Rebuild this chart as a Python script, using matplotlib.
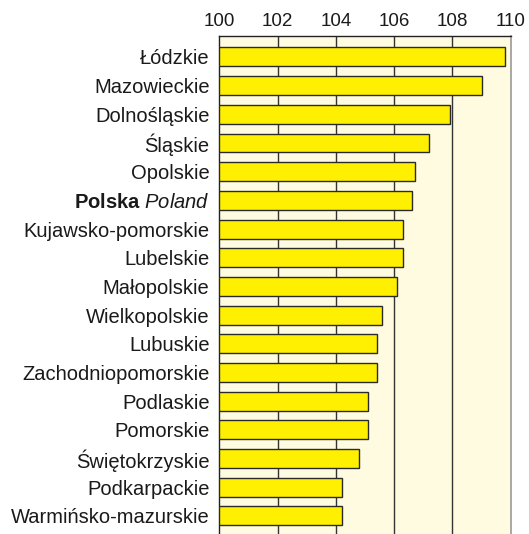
import matplotlib
matplotlib.use("Agg")
import matplotlib.pyplot as plt

regions = ['Łódzkie', 'Mazowieckie', 'Dolnośląskie', 'Śląskie', 'Opolskie',
           'Polska Poland', 'Kujawsko-pomorskie', 'Lubelskie', 'Małopolskie',
           'Wielkopolskie', 'Lubuskie', 'Zachodniopomorskie', 'Podlaskie',
           'Pomorskie', 'Świętokrzyskie', 'Podkarpackie', 'Warmińsko-mazurskie']
values = [109.8, 109.0, 107.9, 107.2, 106.7, 106.6, 106.3, 106.3, 106.1,
          105.6, 105.4, 105.4, 105.1, 105.1, 104.8, 104.2, 104.2]
xticks = [100, 102, 104, 106, 108, 110]

plt.rcParams['font.family'] = ['Liberation Sans', 'DejaVu Sans']
plt.rcParams['mathtext.fontset'] = 'custom'
plt.rcParams['mathtext.rm'] = 'Liberation Sans'
plt.rcParams['mathtext.bf'] = 'Liberation Sans:bold'
plt.rcParams['mathtext.it'] = 'Liberation Sans:italic'

fig = plt.figure(figsize=(5.29, 5.34), dpi=100)
ax = fig.add_axes([0.4146, 0.0, 0.5508, 0.9326])
ax.set_facecolor('#FFFBE1')

pos = list(range(len(regions)))
ax.barh(pos, [v - 100 for v in values], left=100, height=0.66,
        color='#FFEF00', edgecolor='#2a2a2a', linewidth=1.0, zorder=3)

ax.set_xlim(100, 110)
ax.set_ylim(16.63, -0.73)
ax.set_xticks(xticks)
ax.xaxis.tick_top()
ax.tick_params(axis='x', length=0, pad=4, labelsize=13.5, labelcolor='#1a1a1a')
ax.tick_params(axis='y', length=0, pad=7, labelsize=14.5, labelcolor='#1a1a1a')
for x in xticks[1:-1]:
    ax.axvline(x, color='#333333', linewidth=1.0, zorder=1)

labels = [r'$\bf{Polska}\ \it{Poland}$' if r == 'Polska Poland' else r for r in regions]
ax.set_yticks(pos)
ax.set_yticklabels(labels)

for s in ['left', 'top']:
    ax.spines[s].set_color('#222222')
    ax.spines[s].set_linewidth(1.0)
ax.spines['right'].set_color('#999999')
ax.spines['right'].set_linewidth(1.2)
ax.spines['bottom'].set_visible(False)

fig.savefig('out.png', dpi=100)
